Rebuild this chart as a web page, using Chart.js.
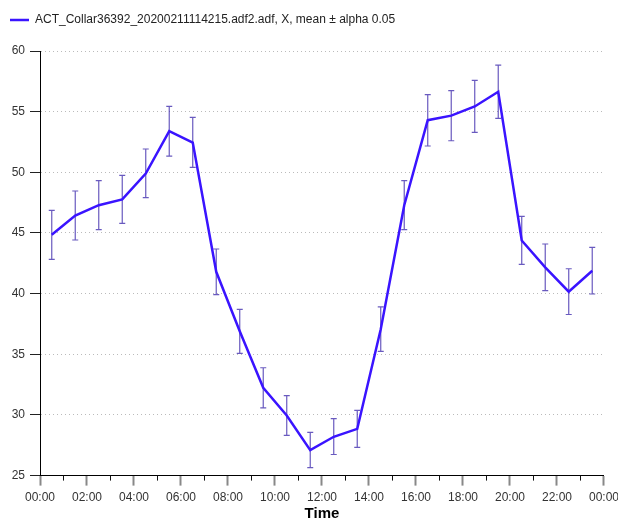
<!DOCTYPE html>
<html>
<head>
<meta charset="utf-8">
<script src="https://cdn.jsdelivr.net/npm/chart.js@4"></script>
<style>
  html, body { margin: 0; padding: 0; overflow: hidden; background: #fff; }
  #wrap { width: 624px; height: 518px; }
</style>
</head>
<body>
<div id="wrap"><canvas id="c" width="624" height="518"></canvas></div>
<script>
const seriesLabel = 'ACT_Collar36392_20200211114215.adf2.adf, X, mean \u00b1 alpha 0.05';
const times = ['00:30','01:30','02:30','03:30','04:30','05:30','06:30','07:30','08:30','09:30','10:30','11:30',
               '12:30','13:30','14:30','15:30','16:30','17:30','18:30','19:30','20:30','21:30','22:30','23:30'];
const means = [44.85, 46.44, 47.29, 47.77, 49.90, 53.40, 52.45, 41.80, 36.90, 32.24, 29.96, 27.10,
               28.20, 28.85, 37.07, 47.29, 54.30, 54.67, 55.43, 56.64, 44.38, 42.16, 40.16, 41.89];
const lower = [42.82, 44.42, 45.27, 45.79, 47.91, 51.34, 50.40, 39.91, 35.07, 30.59, 28.31, 25.65,
               26.74, 27.32, 35.24, 45.27, 52.17, 52.60, 53.29, 54.44, 42.41, 40.24, 38.28, 39.97];
const upper = [46.86, 48.46, 49.31, 49.75, 51.92, 55.43, 54.53, 43.68, 38.70, 33.89, 31.60, 28.56,
               29.69, 30.37, 38.90, 49.31, 56.40, 56.73, 57.58, 58.84, 46.36, 44.09, 42.05, 43.81];
const xAxisTitle = 'Time';
const yMin = 25, yMax = 60, yStep = 5;
const xMinHour = 0, xMaxHour = 24, xMajorStep = 2, xMinorStep = 1;

function toHours(t) { const [h, m] = t.split(':').map(Number); return h + m / 60; }
function fmtHour(v) { const h = ((Math.round(v) % 24) + 24) % 24; return (h < 10 ? '0' : '') + h + ':00'; }

const hours = times.map(toHours);
const points = hours.map((h, i) => ({ x: h, y: means[i] }));
const FONT = '"Liberation Sans", Arial, Helvetica, sans-serif';

const errorBars = {
  id: 'errorBars',
  beforeDatasetsDraw(chart) {
    const { ctx, scales: { x, y } } = chart;
    ctx.save();
    ctx.strokeStyle = 'rgba(55,35,170,0.75)';
    ctx.lineWidth = 1.2;
    const cap = 3;
    for (let i = 0; i < hours.length; i++) {
      const px = x.getPixelForValue(hours[i]);
      const pt = y.getPixelForValue(upper[i]);
      const pb = y.getPixelForValue(lower[i]);
      ctx.beginPath();
      ctx.moveTo(px, pt); ctx.lineTo(px, pb);
      ctx.moveTo(px - cap, pt); ctx.lineTo(px + cap, pt);
      ctx.moveTo(px - cap, pb); ctx.lineTo(px + cap, pb);
      ctx.stroke();
    }
    ctx.restore();
  }
};

const minorTicks = {
  id: 'minorTicks',
  afterDraw(chart) {
    const { ctx, scales: { x } } = chart;
    ctx.save();
    ctx.strokeStyle = '#111';
    ctx.lineWidth = 1;
    for (let h = xMinHour + xMinorStep; h < xMaxHour; h += xMajorStep) {
      const px = Math.round(x.getPixelForValue(h)) + 0.5;
      ctx.beginPath();
      ctx.moveTo(px, x.top);
      ctx.lineTo(px, x.top + 5);
      ctx.stroke();
    }
    ctx.restore();
  }
};

new Chart(document.getElementById('c'), {
  type: 'line',
  data: {
    datasets: [{
      label: seriesLabel,
      data: points,
      borderColor: '#3a14ff',
      backgroundColor: '#3a14ff',
      borderWidth: 2.5,
      pointRadius: 0,
      tension: 0,
      fill: false
    }]
  },
  options: {
    responsive: false,
    animation: false,
    devicePixelRatio: 1,
    layout: { padding: { left: 0, right: 0, top: 4, bottom: 0 } },
    plugins: {
      legend: {
        display: true,
        position: 'top',
        align: 'start',
        labels: {
          usePointStyle: true,
          pointStyle: 'line',
          pointStyleWidth: 19,
          boxHeight: 12,
          color: '#222',
          font: { family: FONT, size: 12 },
          padding: 10
        }
      },
      title: {
        display: true,
        text: '',
        position: 'top',
        weight: 500,
        font: { size: 10, lineHeight: 1.5 },
        padding: { top: 0, bottom: 0 }
      },
      tooltip: { enabled: false }
    },
    scales: {
      x: {
        type: 'linear',
        min: xMinHour,
        max: xMaxHour,
        grid: { drawOnChartArea: false, drawTicks: true, tickLength: 10, tickColor: '#888', tickWidth: 2 },
        border: { display: true, color: '#000', width: 1 },
        ticks: {
          stepSize: xMajorStep,
          autoSkip: false,
          maxRotation: 0,
          padding: 5,
          color: '#333',
          font: { family: FONT, size: 12 },
          callback: v => fmtHour(v)
        },
        title: {
          display: true,
          text: xAxisTitle,
          color: '#000',
          font: { family: FONT, size: 15, weight: 'bold', lineHeight: 1 },
          padding: { top: -3.5, bottom: -3.5 }
        }
      },
      y: {
        min: yMin,
        max: yMax,
        afterFit: s => { s.width = 40; },
        grid: { color: '#bbbbbb', lineWidth: 1, drawTicks: true, tickLength: 10, tickColor: '#222' },
        border: { display: true, color: '#000', width: 1, dash: [1, 3] },
        ticks: {
          stepSize: yStep,
          padding: 5,
          color: '#333',
          font: { family: FONT, size: 12 }
        }
      }
    }
  },
  plugins: [errorBars, minorTicks]
});
</script>
</body>
</html>
